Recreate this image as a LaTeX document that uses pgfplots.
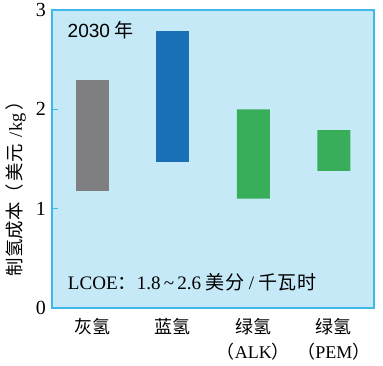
\documentclass[border=0pt]{standalone}
\usepackage{pgfplots}
\pgfplotsset{compat=1.18}
\usepackage{fontspec}
\setmainfont{Liberation Serif}
\newfontfamily\cjk{Noto Sans CJK SC}
\newfontfamily\hel{Liberation Sans}
\definecolor{bg}{HTML}{C6E9F8}
\definecolor{axisblue}{HTML}{3DB8E8}
\definecolor{grayh}{HTML}{7F7F82}
\definecolor{blueh}{HTML}{1A70B7}
\definecolor{greenh}{HTML}{38AD5A}
\begin{document}
\begin{tikzpicture}
\begin{axis}[
  scale only axis, width=241.5pt, height=223.5pt,
  xmin=-0.5, xmax=3.5, ymin=0, ymax=3,
  ybar stacked, bar width=0.41,
  axis background/.style={fill=bg},
  axis line style={draw=axisblue, line width=1pt},
  ytick={0,1,2,3}, xtick={0,1,2,3},
  ytick pos=left,
  x tick style={draw=none},
  y tick style={draw=axisblue, line width=0.8pt},
  tick align=inside, major tick length=4.5pt,
  /pgf/number format/assume math mode=true,
  yticklabel style={xshift=-1pt, font=\fontsize{15}{17}\selectfont},
  xticklabels={{\cjk 灰氢},{\cjk 蓝氢},{{\cjk 绿氢}\\[4pt]{\cjk （}ALK{\cjk ）}},{{\cjk 绿氢}\\[4pt]{\cjk （}PEM{\cjk ）}}},
  xticklabel style={align=center, yshift=-4pt, font=\fontsize{13.5}{15}\selectfont},
  ylabel={{\cjk 制氢成本（\,美元 }\,/kg\,{\cjk ）}},
  ylabel style={at={(axis description cs:-0.112,0.416)}, anchor=center, font=\fontsize{13.8}{15}\selectfont},
]
% invisible base (lower end of each range)
\addplot[fill=none, draw=none] coordinates {(0,1.18) (1,1.47) (2,1.10) (3,1.38)};
% range heights
\addplot[fill=grayh, draw=none] coordinates {(0,1.12) (1,0) (2,0) (3,0)};
\addplot[fill=blueh, draw=none] coordinates {(0,0) (1,1.32) (2,0) (3,0)};
\addplot[fill=greenh, draw=none] coordinates {(0,0) (1,0) (2,0.90) (3,0.41)};
\node[anchor=west, font=\fontsize{14.3}{16}\selectfont] at (axis description cs:0.034,0.933) {{\hel 2030} {\cjk 年}};
\node[anchor=west, font=\fontsize{14.3}{16}\selectfont] at (axis description cs:0.035,0.087) {LCOE{\cjk ：}1.8\,\textasciitilde\,2.6 {\cjk 美分} / {\cjk 千瓦时}};
\coordinate (ll) at (rel axis cs:0,0);
\coordinate (ur) at (rel axis cs:1,1);
\end{axis}
\pgfresetboundingbox
\path[use as bounding box] ([shift={(-39pt,-42.75pt)}]ll) rectangle ([shift={(6.75pt,7.5pt)}]ur);
\end{tikzpicture}
\end{document}
